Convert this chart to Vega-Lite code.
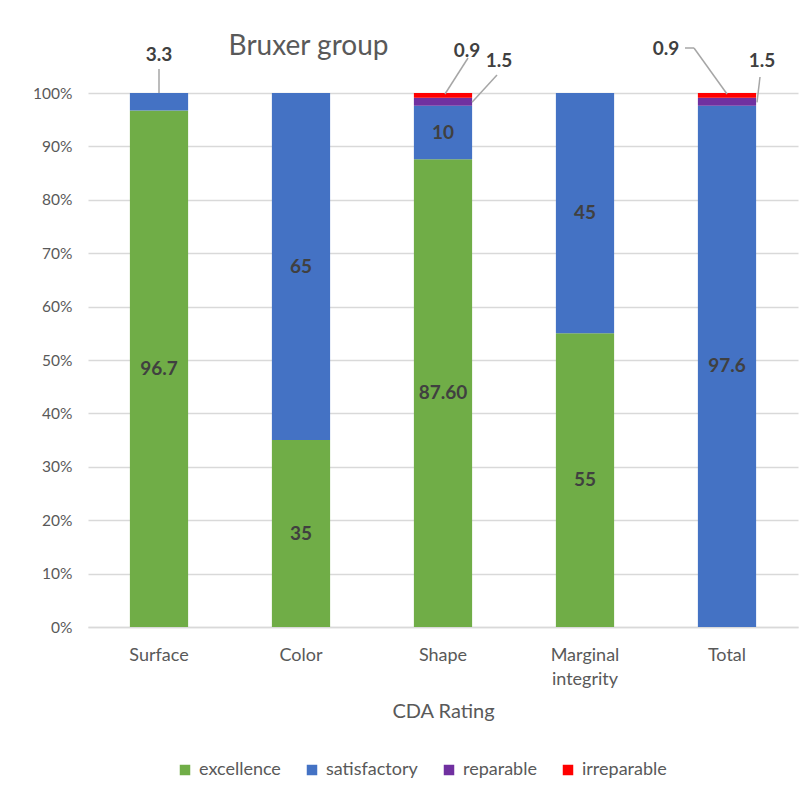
{
  "$schema": "https://vega.github.io/schema/vega-lite/v6.json",
  "width": 710,
  "height": 534,
  "autosize": "none",
  "padding": {"left": 88, "top": 93, "right": 13, "bottom": 171},
  "background": "white",
  "config": {"font": "Lato", "view": {"stroke": null}},
  "title": {"text": "Bruxer group", "anchor": "start", "dx": 196, "offset": -21, "fontSize": 28, "fontWeight": "normal", "color": "#595959"},
  "data": {"values": [
    {"category": "Surface", "status": "excellence", "value": 96.7, "label": "96.7"},
    {"category": "Surface", "status": "satisfactory", "value": 3.3, "label": "3.3"},
    {"category": "Color", "status": "excellence", "value": 35, "label": "35"},
    {"category": "Color", "status": "satisfactory", "value": 65, "label": "65"},
    {"category": "Shape", "status": "excellence", "value": 87.6, "label": "87.60"},
    {"category": "Shape", "status": "satisfactory", "value": 10, "label": "10"},
    {"category": "Shape", "status": "reparable", "value": 1.5, "label": "1.5"},
    {"category": "Shape", "status": "irreparable", "value": 0.9, "label": "0.9"},
    {"category": "Marginal integrity", "status": "excellence", "value": 55, "label": "55"},
    {"category": "Marginal integrity", "status": "satisfactory", "value": 45, "label": "45"},
    {"category": "Total", "status": "satisfactory", "value": 97.6, "label": "97.6"},
    {"category": "Total", "status": "reparable", "value": 1.5, "label": "1.5"},
    {"category": "Total", "status": "irreparable", "value": 0.9, "label": "0.9"}
  ]},
  "transform": [
    {"calculate": "indexof(['excellence','satisfactory','reparable','irreparable'], datum.status)", "as": "rank"},
    {"stack": "value", "groupby": ["category"], "sort": [{"field": "rank"}], "as": ["y0", "y1"]},
    {"calculate": "(datum.y0 + datum.y1) / 2", "as": "ymid"}
  ],
  "encoding": {
    "x": {
      "field": "category", "type": "nominal",
      "sort": ["Surface", "Color", "Shape", "Marginal integrity", "Total"],
      "scale": {"paddingInner": 0.59, "paddingOuter": 0.295},
      "axis": {
        "title": "CDA Rating", "labelAngle": 0, "labelFontSize": 18, "labelColor": "#595959",
        "labelPadding": 19, "labelLineHeight": 24, "ticks": false, "domainColor": "#D9D9D9", "domainWidth": 1.5,
        "labelExpr": "datum.value == 'Marginal integrity' ? ['Marginal', 'integrity'] : datum.value",
        "titleFontSize": 20, "titleFontWeight": "normal", "titleColor": "#595959", "titlePadding": 13
      }
    }
  },
  "layer": [
    {
      "mark": {"type": "bar"},
      "encoding": {
        "y": {
          "field": "y0", "type": "quantitative", "scale": {"domain": [0, 100]},
          "axis": {
            "title": null, "values": [0, 10, 20, 30, 40, 50, 60, 70, 80, 90, 100],
            "labelExpr": "datum.value + '%'", "labelFontSize": 15.5, "labelColor": "#595959",
            "labelPadding": 16, "domain": false, "ticks": false, "gridColor": "#D9D9D9", "gridWidth": 1.5
          }
        },
        "y2": {"field": "y1"},
        "color": {
          "field": "status", "type": "nominal",
          "scale": {"domain": ["excellence", "satisfactory", "reparable", "irreparable"], "range": ["#70AD47", "#4472C4", "#7030A0", "#FF0000"]},
          "legend": {
            "title": null, "orient": "none", "legendX": 88, "legendY": 668, "direction": "horizontal",
            "symbolType": "square", "symbolSize": 110, "symbolStrokeWidth": 0, "labelFontSize": 18,
            "labelColor": "#595959", "columnPadding": 22, "labelOffset": 5
          }
        }
      }
    },
    {
      "transform": [{"filter": "datum.value >= 5"}],
      "mark": {"type": "text", "fontWeight": "bold", "fontSize": 19, "color": "#404040"},
      "encoding": {"y": {"field": "ymid", "type": "quantitative"}, "text": {"field": "label"}}
    },
    {
      "transform": [{"filter": "datum.category == 'Surface' && datum.status == 'satisfactory'"}],
      "layer": [
        {"mark": {"type": "rule", "color": "#A6A6A6", "strokeWidth": 1.5, "y2Offset": -24},
         "encoding": {"y": {"datum": 100}, "y2": {"datum": 100}}},
        {"mark": {"type": "text", "fontWeight": "bold", "fontSize": 19, "color": "#404040", "dy": -38},
         "encoding": {"y": {"datum": 100}, "text": {"field": "label"}}}
      ]
    },
    {
      "transform": [{"filter": "datum.category == 'Shape' && datum.status == 'irreparable'"}],
      "layer": [
        {"mark": {"type": "rule", "color": "#A6A6A6", "strokeWidth": 1.5, "xOffset": 2, "yOffset": 1, "x2Offset": 25, "y2Offset": -35},
         "encoding": {"x2": {"field": "category"}, "y": {"datum": 100}, "y2": {"datum": 100}}},
        {"mark": {"type": "text", "fontWeight": "bold", "fontSize": 19, "color": "#404040", "dx": 24, "dy": -42},
         "encoding": {"y": {"datum": 100}, "text": {"field": "label"}}}
      ]
    },
    {
      "transform": [{"filter": "datum.category == 'Shape' && datum.status == 'reparable'"}],
      "layer": [
        {"mark": {"type": "rule", "color": "#A6A6A6", "strokeWidth": 1.5, "xOffset": 29, "x2Offset": 54, "y2Offset": -18},
         "encoding": {"x2": {"field": "category"}, "y": {"datum": 98.25}, "y2": {"datum": 100}}},
        {"mark": {"type": "text", "fontWeight": "bold", "fontSize": 19, "color": "#404040", "dx": 56, "dy": -32},
         "encoding": {"y": {"datum": 100}, "text": {"field": "label"}}}
      ]
    },
    {
      "transform": [{"filter": "datum.category == 'Total' && datum.status == 'irreparable'"}],
      "layer": [
        {"mark": {"type": "rule", "color": "#A6A6A6", "strokeWidth": 1.5, "xOffset": -42, "x2Offset": -33, "yOffset": -45, "y2Offset": -45},
         "encoding": {"x2": {"field": "category"}, "y": {"datum": 100}, "y2": {"datum": 100}}},
        {"mark": {"type": "rule", "color": "#A6A6A6", "strokeWidth": 1.5, "xOffset": -33, "x2Offset": 0, "yOffset": -45, "y2Offset": 1},
         "encoding": {"x2": {"field": "category"}, "y": {"datum": 100}, "y2": {"datum": 100}}},
        {"mark": {"type": "text", "fontWeight": "bold", "fontSize": 19, "color": "#404040", "dx": -61, "dy": -44},
         "encoding": {"y": {"datum": 100}, "text": {"field": "label"}}}
      ]
    },
    {
      "transform": [{"filter": "datum.category == 'Total' && datum.status == 'reparable'"}],
      "layer": [
        {"mark": {"type": "rule", "color": "#A6A6A6", "strokeWidth": 1.5, "xOffset": 30, "x2Offset": 33, "y2Offset": -16},
         "encoding": {"x2": {"field": "category"}, "y": {"datum": 98.25}, "y2": {"datum": 100}}},
        {"mark": {"type": "text", "fontWeight": "bold", "fontSize": 19, "color": "#404040", "dx": 35, "dy": -32},
         "encoding": {"y": {"datum": 100}, "text": {"field": "label"}}}
      ]
    }
  ]
}
